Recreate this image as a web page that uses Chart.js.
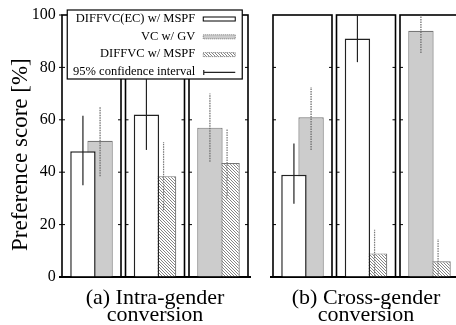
<!DOCTYPE html>
<html>
<head>
<meta charset="utf-8">
<script src="https://cdn.jsdelivr.net/npm/chart.js@4"></script>
<style>
  html, body { margin: 0; padding: 0; background: #fff; overflow: hidden; }
  #wrap { position: relative; width: 456px; height: 325px; overflow: hidden; }
  canvas { position: absolute; top: 0; }
  #chartA { left: 0; }
  #chartB { left: 256px; }
</style>
</head>
<body>
<div id="wrap">
  <canvas id="chartA" width="256" height="325"></canvas>
  <canvas id="chartB" width="210" height="325"></canvas>
</div>
<script>
// six panels: three intra-gender pairs, three cross-gender pairs
const panels = ["intra-1", "intra-2", "intra-3", "cross-1", "cross-2", "cross-3"];
const seriesNames = ["DIFFVC(EC) w/ MSPF", "VC w/ GV", "DIFFVC w/ MSPF"];
const ciLabel = "95% confidence interval";
const groupTitles = [["(a) Intra-gender", "conversion"], ["(b) Cross-gender", "conversion"]];
const yTitle = "Preference score [%]";

// preference scores (null = system not in that pair)
const diffvcEc = [48, 62, null, 39, 91, null];
const vcGv = [52, null, 57, 61, null, 94];
const diffvc = [null, 38.5, 43.5, null, 9, 6];

// 95% confidence intervals
const diffvcEcLow = [35, 48.5, null, 28, 82, null];
const diffvcEcHigh = [61.5, 75.5, null, 51, 100, null];
const vcGvLow = [38.5, null, 44, 48.5, null, 85.5];
const vcGvHigh = [65, null, 70, 72.5, null, 100];
const diffvcLow = [null, 25.5, 30, null, 0.5, 0];
const diffvcHigh = [null, 51.5, 56.5, null, 18, 14.5];

const FONT = '"Liberation Serif", "Times New Roman", serif';

function makeHatch() {
  const c = document.createElement("canvas");
  c.width = 3;
  c.height = 3;
  const g = c.getContext("2d");
  g.fillStyle = "#fff";
  g.fillRect(0, 0, 3, 3);
  g.strokeStyle = "#777";
  g.lineWidth = 0.9;
  g.beginPath();
  g.moveTo(0, 0); g.lineTo(3, 3);
  g.moveTo(-1, 2); g.lineTo(1, 4);
  g.moveTo(2, -1); g.lineTo(4, 1);
  g.stroke();
  return g.createPattern(c, "repeat");
}
const hatch = makeHatch();

const styles = [
  { bg: "#ffffff", border: "#222", errColor: "#222", errDash: [] },
  { bg: "#cccccc", border: "#777", errColor: "#666", errDash: [1.5, 1] },
  { bg: hatch, border: "#777", errColor: "#777", errDash: [1.5, 1] },
];

// panel frames with small inward ticks
const framePlugin = {
  id: "frames",
  afterDatasetsDraw(chart) {
    const { ctx, scales: { x, y } } = chart;
    const catW = x.width / x.ticks.length;
    const half = catW / 2 - 2.25;
    const top = y.getPixelForValue(100);
    const bottom = y.getPixelForValue(0);
    ctx.save();
    ctx.strokeStyle = "#000";
    x.ticks.forEach((t, i) => {
      const cx = x.getPixelForValue(i);
      ctx.lineWidth = 1.6;
      ctx.strokeRect(cx - half, top, half * 2, bottom - top);
      ctx.lineWidth = 1;
      ctx.beginPath();
      for (let v = 20; v < 100; v += 20) {
        const py = y.getPixelForValue(v);
        ctx.moveTo(cx - half, py); ctx.lineTo(cx - half + 3, py);
        ctx.moveTo(cx + half, py); ctx.lineTo(cx + half - 3, py);
      }
      if (i === 0 && chart.options.scales.y.display) {
        for (let v = 0; v <= 100; v += 20) {
          const py = y.getPixelForValue(v);
          ctx.moveTo(cx - half, py); ctx.lineTo(cx - half - 3, py);
        }
      }
      ctx.stroke();
    });
    ctx.restore();
  },
};

// confidence interval lines
const errorPlugin = {
  id: "errors",
  afterDatasetsDraw(chart) {
    const { ctx, scales: { y } } = chart;
    ctx.save();
    chart.data.datasets.forEach((ds, i) => {
      const meta = chart.getDatasetMeta(i);
      ctx.strokeStyle = ds.errColor;
      ctx.setLineDash(ds.errDash);
      ctx.lineWidth = 1.2;
      meta.data.forEach((bar, j) => {
        if (ds.data[j] == null) return;
        const lo = Math.max(0, ds.low[j]);
        const hi = Math.min(100, ds.high[j]);
        ctx.beginPath();
        ctx.moveTo(bar.x, y.getPixelForValue(lo));
        ctx.lineTo(bar.x, y.getPixelForValue(hi));
        ctx.stroke();
      });
    });
    ctx.restore();
  },
};

// boxed legend, text on the left and samples on the right
const legendPlugin = {
  id: "boxLegend",
  afterDraw(chart) {
    const { ctx, chartArea } = chart;
    const left = chartArea.left + 7.5;
    const top = chartArea.top - 5;
    const w = 175, h = 69;
    ctx.save();
    ctx.fillStyle = "#fff";
    ctx.fillRect(left, top, w, h);
    ctx.strokeStyle = "#000";
    ctx.lineWidth = 1.2;
    ctx.strokeRect(left, top, w, h);
    ctx.font = "12.5px " + FONT;
    ctx.fillStyle = "#000";
    ctx.textAlign = "right";
    ctx.textBaseline = "middle";
    const labels = seriesNames.concat([ciLabel]);
    labels.forEach((lab, i) => {
      const cy = top + 8.5 + i * 17.8;
      ctx.fillText(lab, left + 128, cy);
      const sx = left + 136, sw = 32;
      if (i < 3) {
        const s = styles[i];
        ctx.fillStyle = s.bg;
        ctx.fillRect(sx, cy - 1.5, sw, 4);
        ctx.strokeStyle = i === 0 ? "#000" : "#777";
        ctx.lineWidth = 1;
        ctx.setLineDash(i === 0 ? [] : [1, 1]);
        ctx.strokeRect(sx, cy - 1.5, sw, 4);
        ctx.setLineDash([]);
        ctx.fillStyle = "#000";
      } else {
        ctx.strokeStyle = "#222";
        ctx.lineWidth = 1.2;
        ctx.beginPath();
        ctx.moveTo(sx, cy + 0.5); ctx.lineTo(sx + sw, cy + 0.5);
        ctx.moveTo(sx + 0.5, cy - 2); ctx.lineTo(sx + 0.5, cy + 3);
        ctx.stroke();
      }
    });
    ctx.restore();
  },
};

function buildDatasets(from, to) {
  const vals = [diffvcEc, vcGv, diffvc];
  const lows = [diffvcEcLow, vcGvLow, diffvcLow];
  const highs = [diffvcEcHigh, vcGvHigh, diffvcHigh];
  return seriesNames.map((name, i) => ({
    label: name,
    data: vals[i].slice(from, to),
    low: lows[i].slice(from, to),
    high: highs[i].slice(from, to),
    backgroundColor: styles[i].bg,
    borderColor: styles[i].border,
    borderWidth: i === 0 ? 1.5 : 1.2,
    errColor: styles[i].errColor,
    errDash: styles[i].errDash,
    categoryPercentage: 0.54,
    barPercentage: 1.48,
  }));
}

function makeChart(id, from, to, title, withAxis, padding) {
  const plugins = [framePlugin, errorPlugin];
  if (withAxis) plugins.push(legendPlugin);
  return new Chart(document.getElementById(id), {
    type: "bar",
    data: { labels: panels.slice(from, to), datasets: buildDatasets(from, to) },
    options: {
      responsive: false,
      animation: false,
      skipNull: true,
      layout: { padding: padding },
      plugins: { legend: { display: false }, tooltip: { enabled: false } },
      scales: {
        x: {
          ticks: { display: false },
          grid: { display: false, drawTicks: false },
          border: { display: true, color: "#000", width: 2 },
          title: {
            display: true,
            text: title,
            color: "#000",
            font: { family: FONT, size: 22, lineHeight: 0.78 },
            padding: { top: 0, bottom: 1.5 },
          },
          afterFit: (s) => { s.height = 48; },
        },
        y: {
          display: withAxis,
          min: 0,
          max: 100,
          ticks: { stepSize: 20, color: "#000", padding: 4, font: { family: FONT, size: 16 } },
          grid: { display: false, drawTicks: false },
          border: { display: false },
          title: {
            display: true,
            // trailing spaces nudge the rotated title down a little
            text: yTitle + "\u00a0\u00a0\u00a0",
            color: "#000",
            font: { family: FONT, size: 23, lineHeight: 1.2 },
            padding: { top: 7, bottom: 0 },
          },
          afterFit: (s) => { s.width = withAxis ? 59.75 : 0; },
        },
      },
    },
    plugins: plugins,
  });
}

makeChart("chartA", 0, 3, groupTitles[0], true, { top: 15, left: 0, right: 5.75, bottom: 0 });
makeChart("chartB", 3, 6, groupTitles[1], false, { top: 15, left: 14.75, right: 4.75, bottom: 0 });
</script>
</body>
</html>
